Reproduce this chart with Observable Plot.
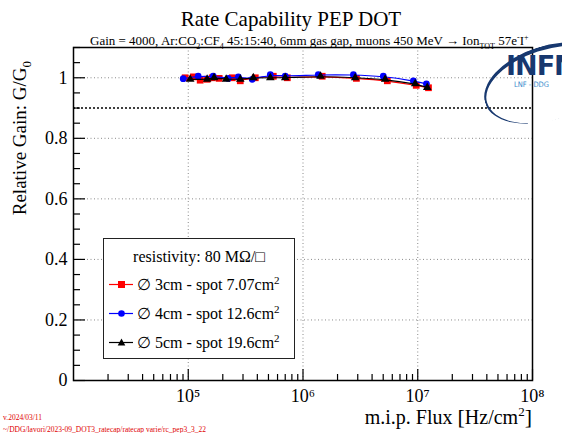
<!DOCTYPE html>
<html><head><meta charset="utf-8">
<script src="https://cdn.jsdelivr.net/npm/d3@7"></script>
<script src="https://cdn.jsdelivr.net/npm/@observablehq/plot@0.6"></script>
<style>
body{margin:0;background:#fff;}
#wrap{position:relative;width:562px;height:433px;overflow:hidden;font-family:"Liberation Serif",serif;color:#000;}
#wrap svg{position:absolute;left:0;top:0;}
.abs{position:absolute;white-space:nowrap;}
#title{left:0;width:582px;top:7px;text-align:center;font-size:21px;}
#sub{left:90px;top:33px;font-size:13px;}
#ytitle{left:9px;top:61px;font-size:19px;transform-origin:0 0;transform:rotate(-90deg) translate(-100%,0);}
#xtitle{right:30px;top:404px;font-size:20px;}
#legend{left:103px;top:238px;width:190px;height:119px;border:1.5px solid #222;background:#fff;font-size:16px;}
#legend .hdr{position:absolute;left:0;width:190px;top:9px;text-align:center;}
#legend .row{position:absolute;left:3px;height:22px;}
#legend .row svg{position:static;vertical-align:middle;}
#legend .row span{vertical-align:middle;margin-left:4px;}
.foot{left:3px;font-size:7.5px;color:#e00000;}
#logo1{left:506px;top:50px;font-family:"DejaVu Sans",sans-serif;font-weight:bold;font-size:27px;color:#17386f;letter-spacing:-1px;}
#logo2{left:514px;top:80px;font-family:"DejaVu Sans Condensed","DejaVu Sans",sans-serif;font-size:7.5px;color:#3a8ccc;}
#arc{left:482px;top:46px;width:130px;height:70px;border-radius:50%;border-top:4px solid #17386f;border-left:2px solid #17386f;border-right:0;border-bottom:0;transform:rotate(-18deg);}
</style></head><body><div id="wrap"></div>
<script>
// Series: flux [Hz/cm^2] and relative gain G/G0
const flux3cm = [9.4e4, 1.11e5, 1.27e5, 1.46e5, 1.62e5, 1.86e5, 2.42e5, 2.84e5, 3.84e5, 5.51e5, 7.3e5, 1.47e6, 2.92e6, 5.43e6, 9.7e6, 1.24e7];
const gain3cm = [1.0, 1.003, 0.992, 0.995, 1.0, 0.998, 1.0, 0.99, 1.0, 1.005, 1.0, 1.005, 0.998, 0.99, 0.975, 0.967];
const flux4cm = [9.04e4, 1.22e5, 1.65e5, 2.23e5, 2.73e5, 3.61e5, 5.19e5, 7.0e5, 1.36e6, 2.75e6, 5.01e6, 9.16e6, 1.19e7];
const gain4cm = [0.997, 1.005, 1.005, 0.998, 1.003, 0.995, 1.01, 1.005, 1.01, 1.01, 1.005, 0.99, 0.98];
const flux5cm = [1.04e5, 1.46e5, 1.68e5, 2.14e5, 2.84e5, 3.69e5, 5.19e5, 7.0e5, 1.42e6, 2.85e6, 5.2e6, 9.5e6, 1.21e7];
const gain5cm = [0.995, 0.995, 1.0, 0.995, 0.995, 1.0, 1.0, 1.0, 1.005, 1.0, 0.995, 0.98, 0.968];

const thresholdGain = [0.9];
const xMajorTicks = [1e5, 1e6, 1e7, 1e8];
const xTickLabels = ["10⁵", "10⁶", "10⁷", "10⁸"];
const yMajorTicks = [0, 0.2, 0.4, 0.6, 0.8, 1.0];
const yTickLabels = ["0", "0.2", "0.4", "0.6", "0.8", "1"];

const xMinorTicks = [];
for (let e = 4; e < 8; e++) for (let k = 2; k <= 9; k++) xMinorTicks.push(k * 10 ** e);
const yMinorTicks = d3.range(1, 23).map(i => +(i * 0.05).toFixed(2)).filter(v => !yMajorTicks.some(m => Math.abs(m - v) < 1e-9));

const toRows = (fx, gy) => fx.map((f, i) => ({flux: f, gain: gy[i]}));
const s3 = toRows(flux3cm, gain3cm), s4 = toRows(flux4cm, gain4cm), s5 = toRows(flux5cm, gain5cm);
const serif = "Liberation Serif, serif";

const chart = Plot.plot({
  width: 562, height: 433,
  marginLeft: 73, marginRight: 30, marginTop: 47, marginBottom: 53,
  x: {type: "log", domain: [1e4, 1e8], label: null},
  y: {domain: [0, 1.1], label: null},
  style: {fontFamily: serif, background: "transparent", color: "black"},
  marks: [
    Plot.gridX(xMajorTicks.slice(0, 3), {stroke: "#8a8a8a", strokeOpacity: 1, strokeDasharray: "1,2.5"}),
    Plot.gridY(yMajorTicks.slice(1), {stroke: "#8a8a8a", strokeOpacity: 1, strokeDasharray: "1,2.5"}),
    Plot.ruleY(thresholdGain, {stroke: "black", strokeWidth: 1.6, strokeDasharray: "2,2"}),
    Plot.axisX(xMajorTicks, {anchor: "bottom", tickSize: -11, text: null, label: null, strokeWidth: 1.2}),
    Plot.axisX(xMinorTicks, {anchor: "bottom", tickSize: -6, text: null, label: null, strokeWidth: 1.2}),
    Plot.axisX(xMajorTicks, {anchor: "bottom", tickSize: 0, tickPadding: 9, tickFormat: d => xTickLabels[xMajorTicks.indexOf(d)], fontSize: 18, fontFamily: serif, label: null}),
    Plot.axisY(yMajorTicks, {anchor: "left", tickSize: -12, text: null, label: null, strokeWidth: 1.2}),
    Plot.axisY(yMinorTicks, {anchor: "left", tickSize: -7, text: null, label: null, strokeWidth: 1.2}),
    Plot.axisY(yMajorTicks, {anchor: "left", tickSize: 0, tickPadding: 6, tickFormat: d => yTickLabels[yMajorTicks.indexOf(d)], fontSize: 18, fontFamily: serif, label: null}),
    Plot.frame({stroke: "black", strokeWidth: 1.5}),
    Plot.line(s3, {x: "flux", y: "gain", stroke: "#ff0000", strokeWidth: 1.2, curve: "basis"}),
    Plot.dot(s3, {x: "flux", y: "gain", symbol: "square", fill: "#ff0000", r: 3.8}),
    Plot.line(s4, {x: "flux", y: "gain", stroke: "#0000ff", strokeWidth: 1.2, curve: "basis"}),
    Plot.dot(s4, {x: "flux", y: "gain", symbol: "circle", fill: "#0000ff", r: 3.4}),
    Plot.line(s5, {x: "flux", y: "gain", stroke: "black", strokeWidth: 1.2, curve: "basis"}),
    Plot.dot(s5, {x: "flux", y: "gain", symbol: "triangle", fill: "black", r: 3.2})
  ]
});

const wrap = document.getElementById("wrap");
wrap.appendChild(chart);

const mk = (shape, color) => {
  const m = shape === "square" ? `<rect x="11" y="4" width="7" height="7" fill="${color}"/>`
    : shape === "circle" ? `<circle cx="14.5" cy="7.5" r="3.3" fill="${color}"/>`
    : `<path d="M14.5,3.5 L18.3,10.5 L10.7,10.5 Z" fill="${color}"/>`;
  return `<svg width="26" height="15"><line x1="2" y1="7.5" x2="26" y2="7.5" stroke="${color}" stroke-width="1.2"/>${m}</svg>`;
};

wrap.insertAdjacentHTML("beforeend", `
<div id="arc" class="abs"></div>
<div id="logo1" class="abs">INFN</div>
<div id="logo2" class="abs">LNF - DDG</div>
<div id="title" class="abs">Rate Capability PEP DOT</div>
<div id="sub" class="abs">Gain = 4000, Ar:CO<sub style="font-size:8px">2</sub>:CF<sub style="font-size:8px">4</sub> 45:15:40, 6mm gas gap, muons 450 MeV &rarr; Ion<sub style="font-size:8px">TOT</sub> 57e<sup style="font-size:8px">-</sup>I<sup style="font-size:8px">+</sup></div>
<div id="ytitle" class="abs">Relative Gain: G/G<sub style="font-size:13px">0</sub></div>
<div id="xtitle" class="abs">m.i.p. Flux <span style="font-size:22px">[</span>Hz/cm<sup style="font-size:13px">2</sup><span style="font-size:22px">]</span></div>
<div id="legend" class="abs">
  <div class="hdr">resistivity: 80 MΩ/□</div>
  <div class="row" style="top:35px">${mk("square", "#ff0000")}<span>∅ 3cm - spot 7.07cm<sup style="font-size:11px">2</sup></span></div>
  <div class="row" style="top:64px">${mk("circle", "#0000ff")}<span>∅ 4cm - spot 12.6cm<sup style="font-size:11px">2</sup></span></div>
  <div class="row" style="top:93px">${mk("triangle", "black")}<span>∅ 5cm - spot 19.6cm<sup style="font-size:11px">2</sup></span></div>
</div>
<div class="abs foot" style="top:413px">v.2024/03/11</div>
<div class="abs foot" style="top:425px">~/DDG/lavori/2023-09_DOT3_ratecap/ratecap varie/rc_pep3_3_22</div>
`);
</script>
</body></html>
